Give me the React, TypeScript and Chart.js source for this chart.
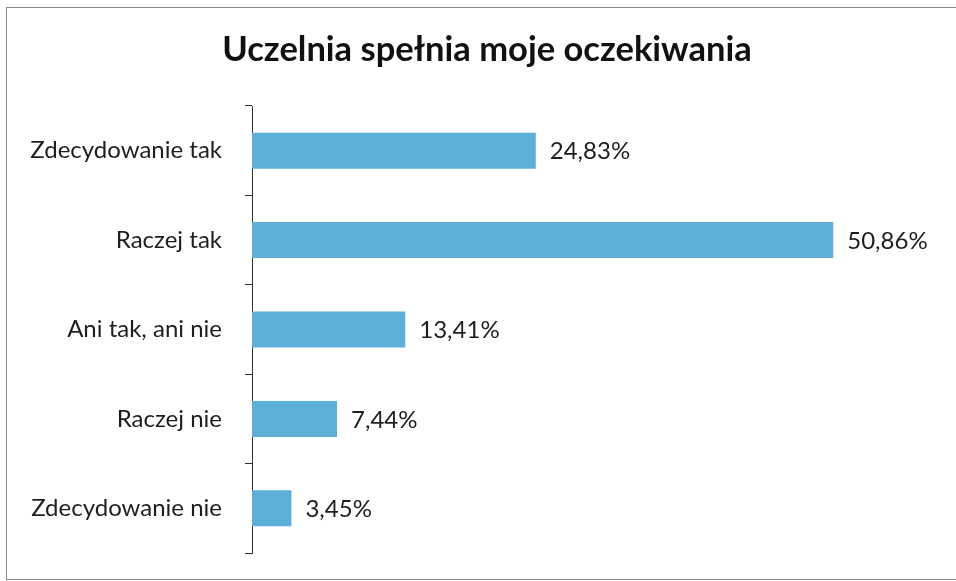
import React, { useEffect, useRef } from "react";
import { Chart, registerables } from "chart.js";

Chart.register(...registerables);

const titleText = "Uczelnia spełnia moje oczekiwania";
const categories = ["Zdecydowanie tak", "Raczej tak", "Ani tak, ani nie", "Raczej nie", "Zdecydowanie nie"];
const values = [24.83, 50.86, 13.41, 7.44, 3.45];
const valueLabels = ["24,83%", "50,86%", "13,41%", "7,44%", "3,45%"];

const FONT = "Lato, 'Open Sans', sans-serif";

const framePlugin = {
  id: "frame",
  beforeDraw(chart: any) {
    const ctx = chart.ctx;
    ctx.save();
    ctx.fillStyle = "#ffffff";
    ctx.fillRect(0, 0, chart.width, chart.height);
    ctx.strokeStyle = "#8a8a8a";
    ctx.lineWidth = 1;
    ctx.strokeRect(6.5, 7.5, 980, 572);
    ctx.restore();
  },
};

const valueLabelPlugin = {
  id: "valueLabels",
  afterDatasetsDraw(chart: any) {
    const ctx = chart.ctx;
    const meta = chart.getDatasetMeta(0);
    ctx.save();
    ctx.font = `24px ${FONT}`;
    ctx.fillStyle = "#1e1e1e";
    ctx.textAlign = "left";
    ctx.textBaseline = "middle";
    meta.data.forEach((bar: any, i: number) => {
      ctx.fillText(valueLabels[i], bar.x + 14, bar.y + 1);
    });
    ctx.restore();
  },
};

export default function App() {
  const ref = useRef<HTMLCanvasElement | null>(null);
  useEffect(() => {
    if (!ref.current) return;
    const chart = new Chart(ref.current, {
      type: "bar",
      data: {
        labels: categories,
        datasets: [
          {
            data: values,
            backgroundColor: "#5cb0d8",
            borderWidth: 0,
            categoryPercentage: 1,
            barPercentage: 0.403,
          },
        ],
      },
      options: {
        indexAxis: "y",
        responsive: false,
        animation: false,
        layout: { padding: { left: 18, right: 0, top: 0, bottom: 28 } },
        plugins: {
          legend: { display: false },
          tooltip: { enabled: false },
          title: {
            display: true,
            text: titleText,
            color: "#111111",
            font: { family: FONT, size: 34.5, weight: "bold", lineHeight: 1.2 },
            padding: { top: 29, bottom: 35.6 },
          },
        },
        scales: {
          x: { display: false, min: 0, max: 61.6 },
          y: {
            afterFit(scale: any) {
              scale.width = 234;
              scale.paddingTop = 0;
              scale.paddingBottom = 0;
            },
            grid: {
              display: true,
              offset: true,
              drawOnChartArea: false,
              drawTicks: true,
              tickLength: 7,
              color: "#333333",
            },
            border: { display: true, color: "#333333", width: 1 },
            ticks: {
              color: "#1e1e1e",
              padding: 23,
              font: { family: FONT, size: 24 },
            },
          },
        },
      },
      plugins: [framePlugin, valueLabelPlugin],
    });
    return () => chart.destroy();
  }, []);
  return (
    <div style={{ position: "absolute", left: 0, top: 0, width: 956, height: 581 }}>
      <canvas ref={ref} width={956} height={581} style={{ display: "block" }} />
    </div>
  );
}
